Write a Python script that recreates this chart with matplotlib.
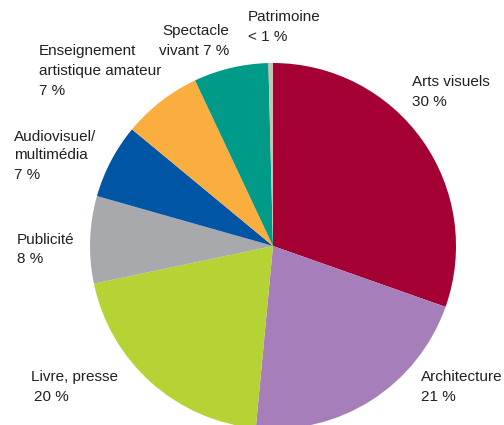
import matplotlib
matplotlib.use("Agg")
import matplotlib.pyplot as plt

plt.rcParams['font.family'] = ['Liberation Sans Narrow', 'Liberation Sans', 'DejaVu Sans']

# parts of the sector, clockwise from the top
secteurs = ["Arts visuels", "Architecture", "Livre, presse", "Publicité",
            "Audiovisuel/\nmultimédia", "Enseignement\nartistique amateur",
            "Spectacle\nvivant", "Patrimoine"]
parts = [30.4, 21.1, 20.2, 7.7, 6.6, 7.0, 6.6, 0.4]
couleurs = ["#A50034", "#A67FBA", "#B5D334", "#A7A9AC",
            "#0055A5", "#F9AE3F", "#009A88", "#C9C1B1"]


def pct(v):
    if v < 1:
        return "< 1 %"
    return "%i %%" % round(v)


fig = plt.figure(figsize=(5.04, 4.25), dpi=100)
ax = fig.add_axes([0, 0, 1, 1])
ax.set_xlim(0, 504)
ax.set_ylim(0, 425)

ax.pie(parts, colors=couleurs, startangle=90, counterclock=False,
       center=(273, 179), radius=183, frame=True,
       wedgeprops=dict(linewidth=0))
ax.set_xlim(0, 504)
ax.set_ylim(0, 425)
ax.axis("off")

fs = 11
col = "#231F20"
H = 425

# label placement (pixel coords, y from the top)
ax.text(412, H - 82, secteurs[0], fontsize=fs, color=col, va="center")
ax.text(412, H - 102, pct(parts[0]), fontsize=fs, color=col, va="center")

ax.text(421, H - 377, secteurs[1], fontsize=fs, color=col, va="center")
ax.text(421, H - 397, pct(parts[1]), fontsize=fs, color=col, va="center")

ax.text(31, H - 377, secteurs[2], fontsize=fs, color=col, va="center")
ax.text(34, H - 397, pct(parts[2]), fontsize=fs, color=col, va="center")

ax.text(17, H - 240, secteurs[3], fontsize=fs, color=col, va="center")
ax.text(17, H - 259, pct(parts[3]), fontsize=fs, color=col, va="center")

l1, l2 = secteurs[4].split("\n")
ax.text(14, H - 137, l1, fontsize=fs, color=col, va="center")
ax.text(14, H - 155, l2, fontsize=fs, color=col, va="center")
ax.text(14, H - 175, pct(parts[4]), fontsize=fs, color=col, va="center")

l1, l2 = secteurs[5].split("\n")
ax.text(39, H - 51, l1, fontsize=fs, color=col, va="center")
ax.text(39, H - 71, l2, fontsize=fs, color=col, va="center")
ax.text(39, H - 91, pct(parts[5]), fontsize=fs, color=col, va="center")

l1, l2 = secteurs[6].split("\n")
ax.text(229, H - 31, l1, fontsize=fs, color=col, va="center", ha="right")
ax.text(229, H - 51, l2 + " " + pct(parts[6]), fontsize=fs, color=col,
        va="center", ha="right")

ax.text(248, H - 17, secteurs[7], fontsize=fs, color=col, va="center")
ax.text(248, H - 37, pct(parts[7]), fontsize=fs, color=col, va="center")

fig.savefig("out.png", dpi=100, facecolor="white")
